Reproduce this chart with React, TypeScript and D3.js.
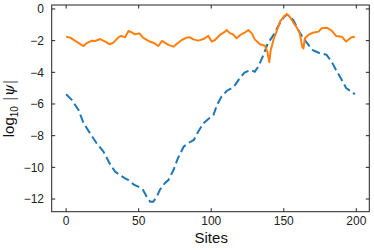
import React from 'react';
import * as d3 from 'd3';

// sampled read-offs of the two curves (site index, log10 |psi|)
const blueSites = [0, 4, 8.5, 12, 16.5, 21, 25.7, 30, 33.7, 37, 40.6, 43, 46.4, 51, 53, 55.5, 58, 60, 62.5, 64.7, 68, 70.5, 74, 77, 81, 84, 88, 91, 94.6, 98, 101.5, 104, 107, 110.6, 114, 116.4, 120, 123, 127, 130, 132.5, 136, 139, 143, 146, 150, 152, 154, 156.6, 160, 163.5, 167, 170, 174, 176, 179.5, 183, 186, 190, 193, 196.7, 199];
const blueValues = [-5.39, -5.75, -6.38, -7.2, -7.85, -8.48, -9.0, -9.75, -10.27, -10.48, -10.7, -10.8, -11.07, -11.28, -11.43, -11.85, -12.17, -12.17, -11.85, -11.4, -11.0, -10.8, -10.17, -9.43, -8.7, -8.48, -8.27, -7.75, -7.22, -6.95, -6.7, -6.06, -5.54, -5.18, -5.0, -4.8, -4.32, -4.02, -3.85, -3.96, -3.64, -2.9, -2.17, -1.64, -1.1, -0.53, -0.36, -0.45, -0.7, -1.33, -1.85, -2.27, -2.6, -2.76, -2.8, -2.9, -3.33, -3.85, -4.48, -5.0, -5.22, -5.39];

const orangeSites = [0, 2.8, 6, 9.6, 12, 14, 17.7, 20, 23.4, 27, 30, 32.6, 36, 38, 40.6, 43, 45, 47.5, 50.5, 53, 56.7, 60, 63.6, 66, 68, 70.5, 74, 76, 79.7, 83, 85.4, 87.7, 91, 94.6, 98, 100.3, 102.6, 106, 109.5, 110.6, 113, 115, 117.5, 120, 123, 125.6, 128, 130, 133.6, 137, 138.7, 140, 141, 143, 145, 147.4, 150, 152, 154, 156.6, 159, 161, 162.7, 163.5, 164.6, 167, 170, 174, 176, 179.5, 183, 186, 190, 193, 196.7, 199];
const orangeValues = [-1.75, -1.81, -2.0, -2.21, -2.34, -2.17, -2.0, -2.02, -1.9, -2.06, -2.23, -2.13, -1.79, -1.7, -1.79, -1.39, -1.47, -1.6, -1.54, -1.81, -2.02, -2.13, -2.34, -2.02, -2.13, -2.27, -2.38, -2.23, -1.96, -1.81, -1.79, -1.92, -2.0, -1.9, -1.7, -2.06, -1.96, -1.64, -1.43, -1.33, -1.54, -1.6, -1.85, -1.64, -1.5, -1.33, -1.54, -1.92, -2.23, -2.32, -2.7, -3.35, -2.6, -1.92, -1.43, -0.8, -0.48, -0.32, -0.48, -0.86, -1.18, -1.54, -2.38, -2.5, -1.85, -1.64, -1.5, -1.43, -1.22, -1.18, -1.37, -1.7, -1.75, -2.06, -1.79, -1.75];

const xTicks = [0, 50, 100, 150, 200];
const yTicks = [0, -2, -4, -6, -8, -10, -12];

const W = 374;
const H = 251;
const left = 51.7;
const right = 369.3;
const top = 5;
const bottom = 211.7;

const fmt = (v: number) => (v < 0 ? `\u2212${Math.abs(v)}` : `${v}`);

export default function App() {
  const x = d3.scaleLinear().domain([-9.95, 208.95]).range([left, right]);
  const y = d3.scaleLinear().domain([-12.8, 0.25]).range([bottom, top]);

  const line = d3.line<[number, number]>()
    .x((d) => x(d[0]))
    .y((d) => y(d[1]));

  const blue = line(blueSites.map((s, i) => [s, blueValues[i]]));
  const orange = line(orangeSites.map((s, i) => [s, orangeValues[i]]));

  const font = 'Liberation Sans, Arial, sans-serif';
  const tick = 3.5;

  return (
    <svg width={W} height={H} style={{ position: 'absolute', left: 0, top: 0 }}>
      <rect width={W} height={H} fill="#fff" />
      <defs>
        <clipPath id="plot">
          <rect x={left} y={top} width={right - left} height={bottom - top} />
        </clipPath>
      </defs>
      <g clipPath="url(#plot)">
        <path d={blue ?? ''} fill="none" stroke="#1f77b4" strokeWidth={2} strokeDasharray="8.5,4" />
        <path d={orange ?? ''} fill="none" stroke="#ff7f0e" strokeWidth={2} strokeLinejoin="round" />
      </g>
      <rect x={left} y={top} width={right - left} height={bottom - top} fill="none" stroke="#222" strokeWidth={1} />
      {xTicks.map((t) => (
        <g key={`x${t}`}>
          <line x1={x(t)} x2={x(t)} y1={bottom} y2={bottom - tick} stroke="#222" />
          <line x1={x(t)} x2={x(t)} y1={top} y2={top + tick} stroke="#222" />
          <text x={x(t)} y={225} textAnchor="middle" fontFamily={font} fontSize={12} fill="#222">{t}</text>
        </g>
      ))}
      {yTicks.map((t) => (
        <g key={`y${t}`}>
          <line x1={left} x2={left + tick} y1={y(t)} y2={y(t)} stroke="#222" />
          <line x1={right} x2={right - tick} y1={y(t)} y2={y(t)} stroke="#222" />
          <text x={44} y={y(t)} dy="0.35em" textAnchor="end" fontFamily={font} fontSize={12} fill="#222">{fmt(t)}</text>
        </g>
      ))}
      <text x={x(100)} y={243} textAnchor="middle" fontFamily={font} fontSize={15} fill="#111">Sites</text>
      <text transform={`translate(14, ${(top + bottom) / 2}) rotate(-90)`} textAnchor="middle" fontFamily={font} fontSize={15} fill="#111">
        log<tspan fontSize={10} dy={4}>10</tspan>
        <tspan dy={-4} fontFamily="DejaVu Serif, serif" fill="#555"> |</tspan>
        <tspan fontFamily="DejaVu Serif, serif" fontStyle="italic">ψ</tspan>
        <tspan fontFamily="DejaVu Serif, serif" fill="#555">|</tspan>
      </text>
    </svg>
  );
}
